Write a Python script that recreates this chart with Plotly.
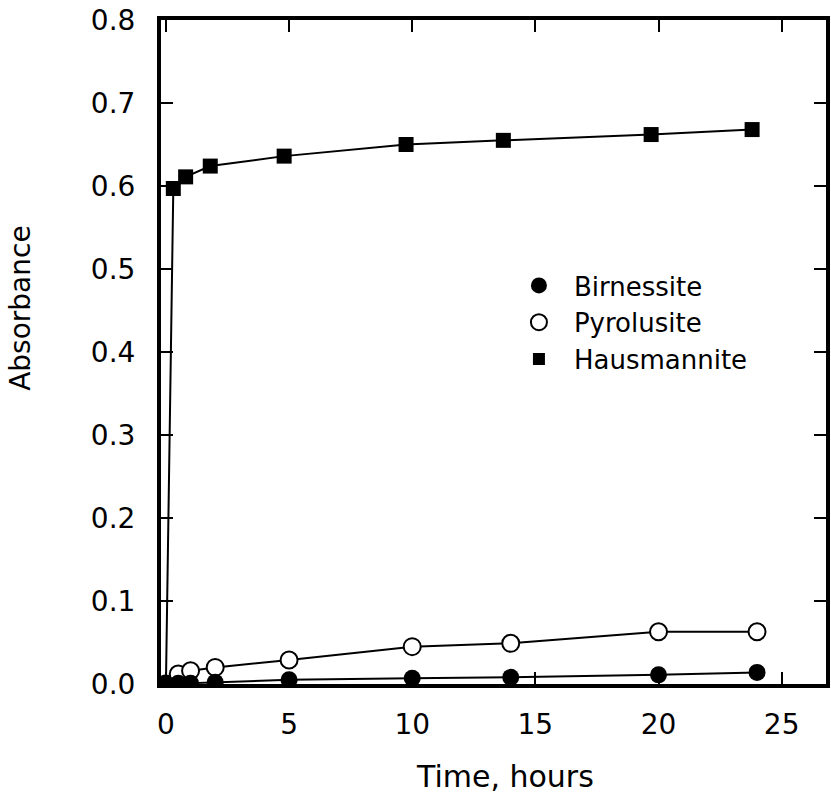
import plotly.graph_objects as go

# ---- data ----
time_b = [0, 0.5, 1, 2, 5, 10, 14, 20, 24]
birnessite = [0.0, 0.001, 0.001, 0.002, 0.005, 0.007, 0.008, 0.011, 0.014]

time_p = [0, 0.5, 1, 2, 5, 10, 14, 20, 24]
pyrolusite = [0.0, 0.012, 0.016, 0.02, 0.029, 0.045, 0.049, 0.063, 0.063]

time_h = [0, 0.3, 0.8, 1.8, 4.8, 9.75, 13.7, 19.7, 23.8]
hausmannite = [0.0, 0.597, 0.611, 0.624, 0.636, 0.65, 0.655, 0.662, 0.668]

x_ticks = [0, 5, 10, 15, 20, 25]
y_ticks = [0.0, 0.1, 0.2, 0.3, 0.4, 0.5, 0.6, 0.7, 0.8]
y_tick_text = ["0.0", "0.1", "0.2", "0.3", "0.4", "0.5", "0.6", "0.7", "0.8"]

FONT = "DejaVu Sans"
fig = go.Figure()

line_style = dict(color="black", width=2)

fig.add_trace(go.Scatter(x=time_h, y=hausmannite, mode="lines+markers",
                         line=line_style, showlegend=False,
                         marker=dict(symbol="square", size=15, color="black")))
fig.add_trace(go.Scatter(x=time_p, y=pyrolusite, mode="lines+markers",
                         line=line_style, showlegend=False,
                         marker=dict(symbol="circle", size=17, color="white",
                                     line=dict(color="black", width=2))))
fig.add_trace(go.Scatter(x=time_b, y=birnessite, mode="lines+markers",
                         line=line_style, showlegend=False,
                         marker=dict(symbol="circle", size=17, color="black")))

# legend-only entries (markers only)
fig.add_trace(go.Scatter(x=[None], y=[None], mode="markers", name="Birnessite",
                         legendgroup="a",
                         marker=dict(symbol="circle", size=17, color="black")))
fig.add_trace(go.Scatter(x=[None], y=[None], mode="markers", name="Pyrolusite",
                         legendgroup="b",
                         marker=dict(symbol="circle", size=17, color="white",
                                     line=dict(color="black", width=2))))
fig.add_trace(go.Scatter(x=[None], y=[None], mode="markers", name="Hausmannite",
                         legendgroup="c",
                         marker=dict(symbol="square", size=12, color="black")))

L, R, T, B = 161, 830, 20, 684
W, H = 831, 802

axis_common = dict(showgrid=False, zeroline=False, showline=True, linecolor="black",
                   linewidth=4, mirror="ticks", ticks="inside", ticklen=12,
                   tickwidth=2, tickcolor="black",
                   tickfont=dict(family=FONT, size=28, color="black"))

fig.update_layout(
    width=W, height=H,
    margin=dict(l=L, r=W - R, t=T, b=H - B),
    paper_bgcolor="white", plot_bgcolor="white",
    xaxis=dict(range=[-0.2, 26.8], tickvals=x_ticks, ticklabelstandoff=12, **axis_common),
    yaxis=dict(range=[0, 0.8], tickvals=y_ticks, ticktext=y_tick_text,
               ticklabelstandoff=16, **axis_common),
    legend=dict(x=(506 - L) / (R - L), y=(B - 262) / (B - T), xanchor="left", yanchor="top",
                bgcolor="rgba(0,0,0,0)", tracegroupgap=0, itemwidth=60,
                font=dict(family=FONT, size=26, color="black")),
    annotations=[
        dict(text="Absorbance", xref="paper", yref="paper",
             x=(20 - L) / (R - L), y=(B - 308) / (B - T), textangle=-90,
             showarrow=False, xanchor="center", yanchor="middle",
             font=dict(family=FONT, size=28, color="black")),
        dict(text="Time, hours", xref="paper", yref="paper",
             x=(507 - L) / (R - L), y=(B - 776) / (B - T),
             showarrow=False, xanchor="center", yanchor="middle",
             font=dict(family=FONT, size=30, color="black")),
    ],
)

fig.write_html("out.html")
